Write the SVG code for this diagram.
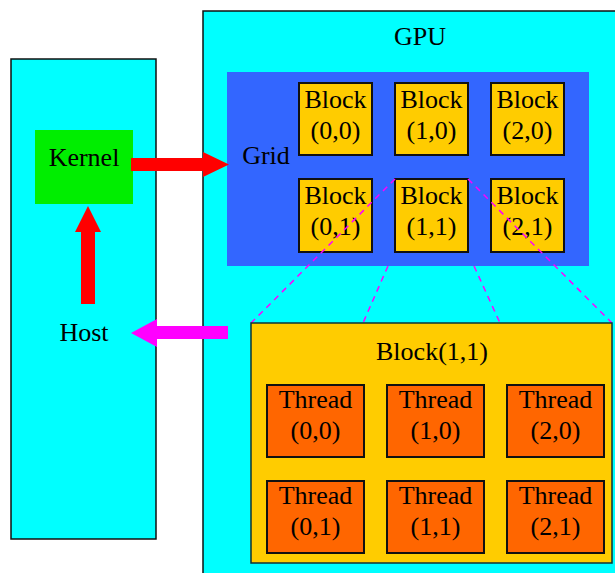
<svg xmlns="http://www.w3.org/2000/svg" width="615" height="573" viewBox="0 0 615 573">
<style>
text{font-family:"Liberation Serif","Times New Roman",serif;font-size:26px;fill:#000;text-anchor:middle}
.blk{fill:#ffcc00;stroke:#111;stroke-width:2}
.thr{fill:#ff6600;stroke:#111;stroke-width:2}
.dash{stroke:#ff00ff;stroke-width:1.5;stroke-dasharray:6,5;fill:none}
</style>
<rect width="615" height="573" fill="#fff"/>
<g id="host">
<rect x="11" y="59" width="145" height="480" fill="#00ffff" stroke="#111" stroke-width="1.5"/>
<text x="84" y="341">Host</text>
</g>
<g id="gpu">
<rect x="203" y="11" width="420" height="570" fill="#00ffff" stroke="#111" stroke-width="1.5"/>
<text x="420" y="45">GPU</text>
</g>
<g id="kernel">
<rect x="35" y="130" width="98" height="74" fill="#00ee00"/>
<text x="84" y="166">Kernel</text>
</g>
<g id="connectors-inner">
<line class="dash" x1="388" y1="266" x2="363" y2="323"/>
<line class="dash" x1="474" y1="266" x2="500" y2="323"/>
</g>
<g id="grid">
<rect x="227" y="72" width="362" height="194" fill="#3366ff"/>
<text x="266" y="164">Grid</text>
</g>
<g id="block00"><rect class="blk" x="299" y="83" width="73" height="72"/><text x="335.5" y="108">Block</text><text x="335.5" y="139">(0,0)</text></g>
<g id="block10"><rect class="blk" x="395" y="83" width="73" height="72"/><text x="431.5" y="108">Block</text><text x="431.5" y="139">(1,0)</text></g>
<g id="block20"><rect class="blk" x="491" y="83" width="73" height="72"/><text x="527.5" y="108">Block</text><text x="527.5" y="139">(2,0)</text></g>
<g id="block01"><rect class="blk" x="299" y="179" width="73" height="73"/><text x="335.5" y="204">Block</text><text x="335.5" y="235">(0,1)</text></g>
<g id="block11"><rect class="blk" x="395" y="179" width="73" height="73"/><text x="431.5" y="204">Block</text><text x="431.5" y="235">(1,1)</text></g>
<g id="block21"><rect class="blk" x="491" y="179" width="73" height="73"/><text x="527.5" y="204">Block</text><text x="527.5" y="235">(2,1)</text></g>
<g id="connectors">
<line class="dash" x1="395" y1="179" x2="251" y2="323"/>
<line class="dash" x1="468" y1="179" x2="612" y2="323"/>
<polygon points="131,158 203,158 203,152 229,164.5 203,177 203,171 131,171" fill="#ff0000"/>
<polygon points="81,304 81,232 75,232 88,206 101,232 95,232 95,304" fill="#ff0000"/>
<polygon points="228,326 157,326 157,319 131,333 157,347 157,339 228,339" fill="#ff00ff"/>
</g>
<g id="block11-detail">
<rect x="251" y="323" width="361" height="240" fill="#ffcc00" stroke="#113333" stroke-width="1.5"/>
<text x="432" y="360">Block(1,1)</text>
</g>
<g id="thread00"><rect class="thr" x="267" y="385" width="97" height="72"/><text x="315.5" y="408">Thread</text><text x="315.5" y="439">(0,0)</text></g>
<g id="thread10"><rect class="thr" x="387" y="385" width="97" height="72"/><text x="435.5" y="408">Thread</text><text x="435.5" y="439">(1,0)</text></g>
<g id="thread20"><rect class="thr" x="507" y="385" width="97" height="72"/><text x="555.5" y="408">Thread</text><text x="555.5" y="439">(2,0)</text></g>
<g id="thread01"><rect class="thr" x="267" y="481" width="97" height="72"/><text x="315.5" y="504">Thread</text><text x="315.5" y="535">(0,1)</text></g>
<g id="thread11"><rect class="thr" x="387" y="481" width="97" height="72"/><text x="435.5" y="504">Thread</text><text x="435.5" y="535">(1,1)</text></g>
<g id="thread21"><rect class="thr" x="507" y="481" width="97" height="72"/><text x="555.5" y="504">Thread</text><text x="555.5" y="535">(2,1)</text></g>
</svg>
